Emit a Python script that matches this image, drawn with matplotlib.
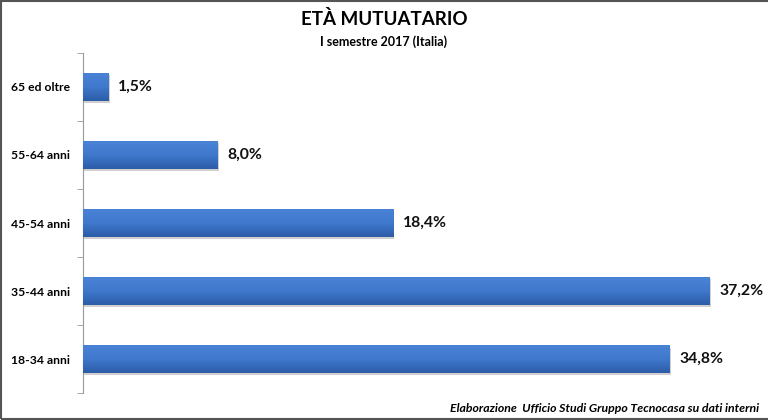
import matplotlib.pyplot as plt
import numpy as np
from matplotlib.patches import Rectangle
from matplotlib.colors import LinearSegmentedColormap

categorie = ["18-34 anni", "35-44 anni", "45-54 anni", "55-64 anni", "65 ed oltre"]
valori = [34.8, 37.2, 18.4, 8.0, 1.5]
etichette = ["34,8%", "37,2%", "18,4%", "8,0%", "1,5%"]

plt.rcParams['font.family'] = ['Lato', 'DejaVu Sans']

fig = plt.figure(figsize=(7.68, 4.2), dpi=100)
ax = fig.add_axes([0.108, 0.064, 0.882, 0.81])

y = np.arange(len(categorie))
barre = ax.barh(y, valori, height=0.4, color="#3b6fc0", zorder=2)

# sfumatura verticale dentro le barre
grad = np.linspace(0, 1, 64).reshape(-1, 1)
cmap = LinearSegmentedColormap.from_list("blu", ["#2c5ca8", "#3f78cc", "#4a83d6"])
for b in barre:
    x0, y0, w, h = b.get_x(), b.get_y(), b.get_width(), b.get_height()
    # ombra
    ax.add_patch(Rectangle((x0 + 0.08, y0 - 0.03), w, h, color="#d0d0d0", zorder=1, lw=0))
    im = ax.imshow(grad, extent=(x0, x0 + w, y0, y0 + h), aspect="auto",
                   cmap=cmap, origin="lower", zorder=3)
    im.set_clip_path(b)

for yi, v, t in zip(y, valori, etichette):
    ax.text(v + 0.6, yi, t, va="center", ha="left", fontsize=11.3,
            fontweight="bold", color="#111111")

ax.set_xlim(0, 40.2)
ax.set_ylim(-0.5, 4.5)
ax.set_yticks(y)
ax.set_yticklabels(categorie, fontsize=8.7, fontweight="bold")
ax.set_yticks(np.arange(-0.5, 5, 1), minor=True)
ax.tick_params(axis="y", which="major", length=0, pad=9.5)
ax.tick_params(axis="y", which="minor", length=4, color="#999999", direction="out")
ax.set_xticks([])
for s in ["top", "right", "bottom"]:
    ax.spines[s].set_visible(False)
ax.spines["left"].set_color("#999999")

fig.text(0.5, 0.955, "ETÀ MUTUATARIO", ha="center", va="center",
         fontsize=13.5, fontweight="bold")
fig.text(0.5, 0.9, "I semestre 2017 (Italia)", ha="center", va="center",
         fontsize=9, fontweight="bold")
fig.text(0.988, 0.028, "Elaborazione  Ufficio Studi Gruppo Tecnocasa su dati interni",
         ha="right", va="center", fontsize=8.8, fontweight="bold", style="italic")

fig.add_artist(Rectangle((0.001, 0.003), 1.2, 0.994, transform=fig.transFigure,
                         fill=False, edgecolor="#555555", lw=1.5))

fig.savefig("out.png", dpi=100)
